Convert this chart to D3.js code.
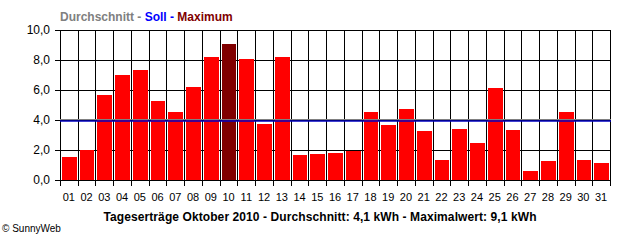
<!DOCTYPE html>
<html>
<head>
<meta charset="utf-8">
<script src="https://cdn.jsdelivr.net/npm/d3@7"></script>
<style>
  body { margin: 0; background: #fff; }
  svg { display: block; font-family: "Liberation Sans", Arial, sans-serif; }
</style>
</head>
<body>
<div id="grafico"></div>
<script>
const tage = ['01','02','03','04','05','06','07','08','09','10','11','12','13','14','15','16',
              '17','18','19','20','21','22','23','24','25','26','27','28','29','30','31']
const ertraege = [1.55, 1.98, 5.67, 7.0, 7.33, 5.27, 4.55, 6.2, 8.2, 9.1, 8.07, 3.75, 8.2, 1.69, 1.76, 1.82,
                  1.96, 4.53, 3.69, 4.73, 3.27, 1.33, 3.4, 2.47, 6.13, 3.33, 0.6, 1.27, 4.53, 1.33, 1.16]
const soll = 4.0
const yTicks = [0, 2, 4, 6, 8, 10]
const titel = 'Tageserträge Oktober 2010 - Durchschnitt: 4,1 kWh - Maximalwert: 9,1 kWh'

const width = 640
const height = 240
const plotLeft = 60, plotRight = 610, plotTop = 30, plotBottom = 180

const durchschnitt = d3.mean(ertraege)
const maximum = d3.max(ertraege)

const svg = d3.select('#grafico')
              .append('svg')
              .attr('width', width)
              .attr('height', height)

svg.append('rect')
   .attr('width', width)
   .attr('height', height)
   .style('fill', '#fff')

const x = d3.scaleBand()
            .domain(tage)
            .range([plotLeft, plotRight])

const y = d3.scaleLinear()
            .domain([0, 10])
            .range([plotBottom, plotTop])

const fmt = v => d3.format('.1f')(v).replace('.', ',')

// horizontal grid + y ticks
svg.append('g')
   .selectAll('line')
   .data(yTicks)
   .enter()
   .append('line')
   .attr('x1', plotLeft - 5)
   .attr('x2', plotRight + 1)
   .attr('y1', d => Math.round(y(d)) + 0.5)
   .attr('y2', d => Math.round(y(d)) + 0.5)
   .style('stroke', '#000')

// vertical grid + x ticks at band edges
const grenzen = tage.map(d => x(d)).concat([plotRight])
svg.append('g')
   .selectAll('line')
   .data(grenzen)
   .enter()
   .append('line')
   .attr('x1', d => Math.round(d) + 0.5)
   .attr('x2', d => Math.round(d) + 0.5)
   .attr('y1', plotTop)
   .attr('y2', plotBottom + 6)
   .style('stroke', '#000')

svg.append('g')
   .selectAll('rect')
   .data(ertraege)
   .enter()
   .append('rect')
   .attr('x', (d, i) => Math.round(x(tage[i])) + 2)
   .attr('width', (d, i) => Math.round(x(tage[i]) + x.bandwidth()) - Math.round(x(tage[i])) - 3)
   .attr('y', d => Math.round(y(d)))
   .attr('height', d => Math.round(y(0)) - Math.round(y(d)))
   .style('fill', d => d === maximum ? '#800000' : '#ff0000')

// average and target lines
svg.append('line')
   .attr('x1', plotLeft)
   .attr('x2', plotRight + 1)
   .attr('y1', Math.round(y(durchschnitt)) + 0.5)
   .attr('y2', Math.round(y(durchschnitt)) + 0.5)
   .style('stroke', '#808080')

svg.append('line')
   .attr('x1', plotLeft)
   .attr('x2', plotRight + 1)
   .attr('y1', Math.round(y(soll)) + 1)
   .attr('y2', Math.round(y(soll)) + 1)
   .style('stroke', '#0000c0')
   .style('stroke-width', 1.4)

svg.append('g')
   .selectAll('text')
   .data(yTicks)
   .enter()
   .append('text')
   .attr('x', plotLeft - 10)
   .attr('y', d => y(d) + 4)
   .attr('text-anchor', 'end')
   .style('font-size', '12px')
   .text(d => fmt(d))

svg.append('g')
   .selectAll('text')
   .data(tage)
   .enter()
   .append('text')
   .attr('x', d => x(d) + x.bandwidth() / 2)
   .attr('y', plotBottom + 21)
   .attr('text-anchor', 'middle')
   .style('font-size', '11px')
   .text(d => d)

const legende = svg.append('text')
                   .attr('x', plotLeft)
                   .attr('y', 20.5)
                   .style('font-size', '12px')
                   .style('font-weight', 'bold')
legende.append('tspan').style('fill', '#808080').text('Durchschnitt - ')
legende.append('tspan').style('fill', '#0000ff').text('Soll - ')
legende.append('tspan').style('fill', '#800000').text('Maximum')

svg.append('text')
   .attr('x', width / 2)
   .attr('y', 221)
   .attr('text-anchor', 'middle')
   .attr('textLength', 433)
   .style('font-size', '12px')
   .style('font-weight', 'bold')
   .text(titel)

svg.append('text')
   .attr('x', 2)
   .attr('y', 232)
   .style('font-size', '10px')
   .text('© SunnyWeb')
</script>
</body>
</html>
